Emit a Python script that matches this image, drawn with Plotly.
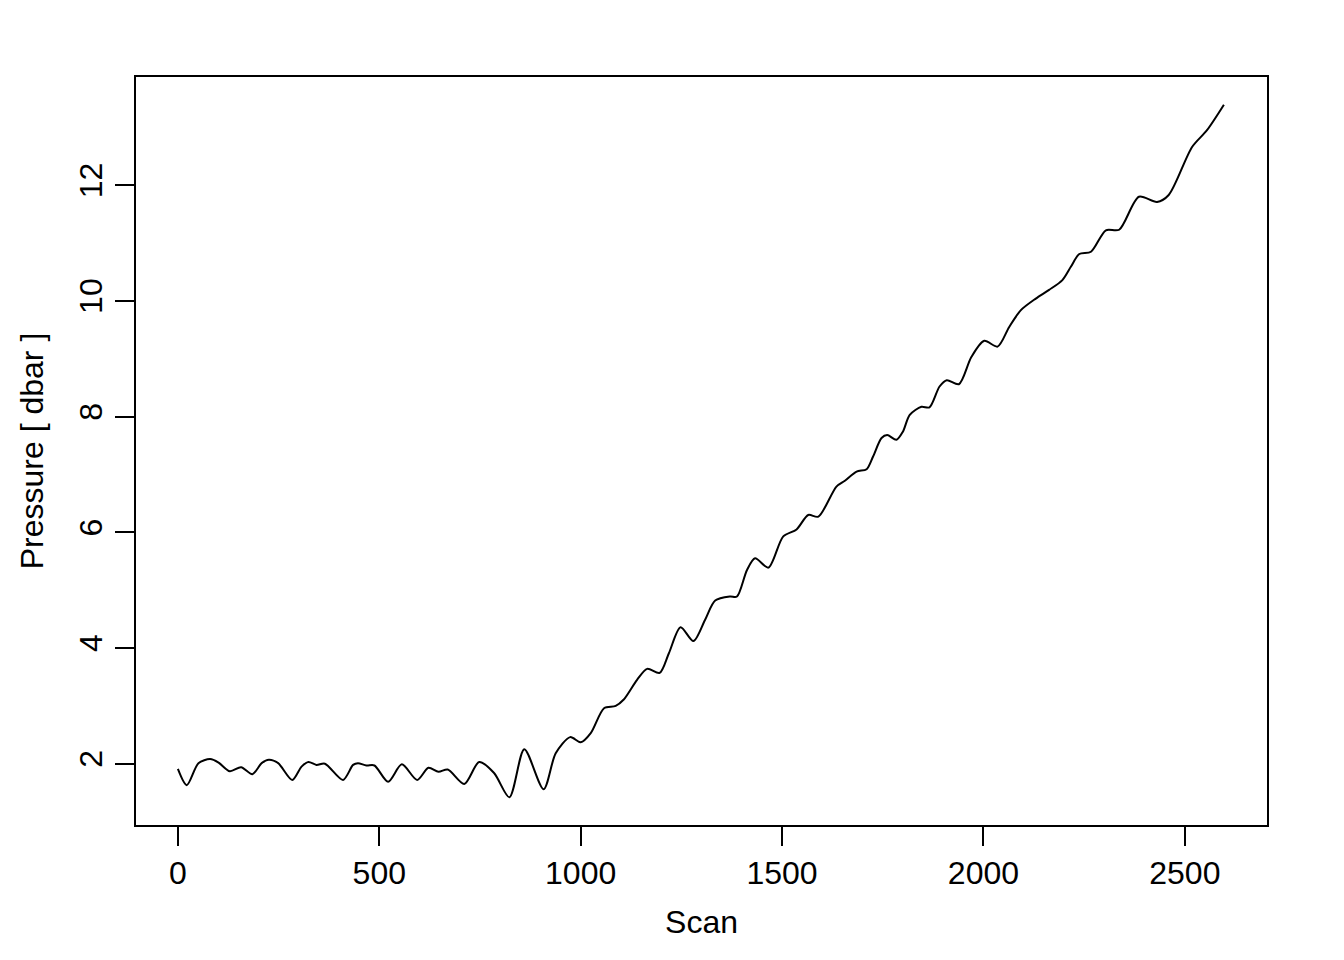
import plotly.graph_objects as go

scan = [0, 22, 51, 80, 101, 129, 157, 185, 208, 226, 249, 284, 307, 324, 344, 365,
        410, 435, 447, 468, 488, 522, 556, 594, 622, 647, 670, 711, 748, 785, 823,
        860, 908, 938, 974, 1000, 1025, 1058, 1087, 1107, 1140, 1165, 1196, 1219,
        1248, 1280, 1309, 1334, 1371, 1388, 1413, 1433, 1466, 1503, 1536, 1565, 1590,
        1635, 1656, 1685, 1710, 1726, 1747, 1761, 1784, 1800, 1817, 1846, 1866,
        1891, 1909, 1939, 1970, 2002, 2035, 2064, 2093, 2130, 2163, 2196, 2217,
        2238, 2267, 2304, 2337, 2386, 2431, 2460, 2518, 2555, 2597]
pressure = [1.91, 1.63, 2.01, 2.08, 2.02, 1.87, 1.94, 1.82, 2.01, 2.07, 2.01, 1.72,
            1.95, 2.03, 1.98, 2.00, 1.72, 1.98, 2.01, 1.97, 1.97, 1.69, 1.99, 1.72,
            1.93, 1.86, 1.90, 1.65, 2.03, 1.84, 1.42, 2.25, 1.56, 2.18, 2.46, 2.37,
            2.53, 2.96, 3.00, 3.11, 3.45, 3.64, 3.57, 3.91, 4.36, 4.12, 4.49, 4.82, 4.89,
            4.89, 5.35, 5.55, 5.39, 5.93, 6.05, 6.30, 6.27, 6.79, 6.89, 7.05, 7.09,
            7.31, 7.63, 7.68, 7.60, 7.74, 8.03, 8.17, 8.16, 8.52, 8.63, 8.56, 9.03,
            9.31, 9.21, 9.55, 9.84, 10.04, 10.19, 10.36, 10.59, 10.81, 10.85, 11.22,
            11.23, 11.80, 11.71, 11.83, 12.66, 12.95, 13.39]

x_ticks = [0, 500, 1000, 1500, 2000, 2500]
y_ticks = [2, 4, 6, 8, 10, 12]

FONT = "Liberation Sans, Arial, sans-serif"

fig = go.Figure()
fig.add_trace(go.Scatter(x=scan, y=pressure, mode="lines",
                         line=dict(color="black", width=2, shape="spline", smoothing=0.8),
                         showlegend=False))

axis_common = dict(showline=True, mirror=True, linecolor="black", linewidth=2,
                   ticks="outside", ticklen=19, tickwidth=2, tickcolor="black",
                   showgrid=False, zeroline=False,
                   tickfont=dict(family=FONT, size=32, color="black"))

fig.update_xaxes(range=[-104, 2704], tickvals=x_ticks,
                 ticktext=[str(v) for v in x_ticks],
                 title=dict(text="Scan", font=dict(family=FONT, size=32, color="black"), standoff=20),
                 **axis_common)
fig.update_yaxes(range=[0.941, 13.87], tickvals=y_ticks,
                 ticktext=[str(v) for v in y_ticks], tickangle=-90,
                 title=dict(text="Pressure [ dbar ]", font=dict(family=FONT, size=32, color="black"), standoff=20),
                 **axis_common)

fig.update_layout(width=1336, height=952, plot_bgcolor="white", paper_bgcolor="white",
                  margin=dict(l=128, r=77, t=69, b=135),
                  font=dict(family=FONT, size=32, color="black"))

fig.write_html("out.html")
